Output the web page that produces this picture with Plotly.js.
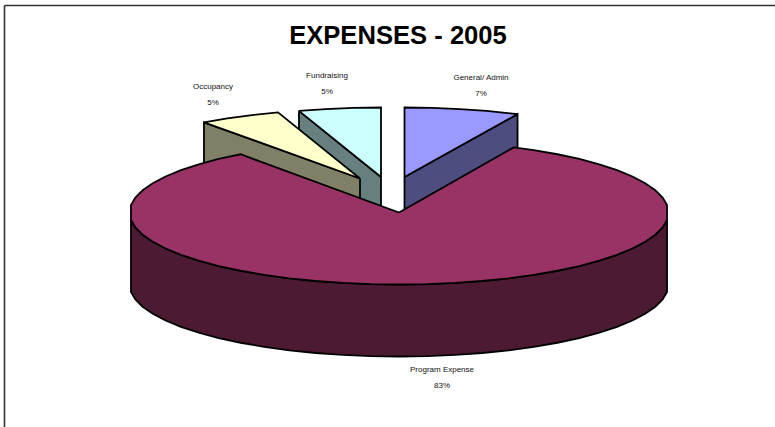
<!DOCTYPE html>
<html>
<head>
<meta charset="utf-8">
<script src="https://cdn.plot.ly/plotly-3.0.1.min.js"></script>
<style>html,body{margin:0;padding:0;background:#fff}#chart{width:775px;height:427px}</style>
</head>
<body>
<div id="chart"></div>
<script>
// Data, clockwise from 12 o'clock
const categories = ['General/ Admin', 'Program Expense', 'Occupancy', 'Fundraising'];
const expenses = [7, 83, 5, 5];

// Styles
const topColors = ['#9999FF', '#993366', '#FFFFCC', '#CCFFFF'];
const sideColors = ['#4D4D80', '#4D1A33', '#808066', '#668080'];

// Pie projection (oblique view of a disc, in page units)
const centre = {x: 399, y: 212.5};
const radius = {x: 269.5, y: 72};
const depth = 72;
const explode = [[5.5, -35.5], [0, 0], [-39, -34], [-18, -35.5]];
const farScale = [{x: 0.985, y: 0.965}, {x: 1, y: 1}, {x: 0.985, y: 0.965}, {x: 0.985, y: 0.965}];
const labelAt = [[481, 78], [442, 370], [213, 87], [327, 76]];
const GRID = 6;

const total = expenses.reduce((a, b) => a + b, 0);
const slices = [];
let acc = 0;
expenses.forEach((v, i) => {
  const start = acc, end = acc + 360 * v / total;
  acc = end;
  slices.push({i, start, end, pct: Math.round(100 * v / total),
    ox: centre.x + explode[i][0], oy: centre.y + explode[i][1]});
});

function pt(s, deg, drop) {
  const r = deg * Math.PI / 180, k = farScale[s.i];
  return [s.ox + k.x * radius.x * Math.sin(r), s.oy - k.y * radius.y * Math.cos(r) + (drop || 0)];
}
function arcAngles(a, b) {
  const out = [a];
  for (let g = Math.ceil(a / GRID) * GRID; g < b - 0.5; g += GRID) {
    if (g > a + 0.5 && g !== 90 && g !== 270) out.push(g);
  }
  out.push(b);
  return out;
}
function poly(points, fill, name) {
  const c = points.concat([points[0]]);
  return {type: 'scatter', mode: 'lines', name, x: c.map(p => p[0]), y: c.map(p => p[1]),
    fill: 'toself', fillcolor: fill, line: {color: '#000', width: 1.8, shape: 'linear'},
    hoverinfo: 'skip', showlegend: false};
}
function topFace(s) {
  const pts = [[s.ox, s.oy]].concat(arcAngles(s.start, s.end).map(d => pt(s, d)));
  return poly(pts, topColors[s.i], categories[s.i]);
}
function radialFace(s, deg) {
  const a = pt(s, deg), b = pt(s, deg, depth);
  return poly([[s.ox, s.oy], a, b, [s.ox, s.oy + depth]], sideColors[s.i], categories[s.i] + ' side');
}
function wall(s, a, b) {
  const ang = arcAngles(a, b);
  const pts = ang.map(d => pt(s, d)).concat(ang.slice().reverse().map(d => pt(s, d, depth)));
  return poly(pts, sideColors[s.i], categories[s.i] + ' wall');
}

const [ga, prog, occ, fund] = slices;
const labelFont = {family: 'Liberation Sans, Arial, sans-serif', size: 8, color: '#111'};
const traces = [
  radialFace(fund, fund.start), topFace(fund),
  radialFace(ga, ga.end), topFace(ga),
  radialFace(occ, occ.start), topFace(occ),
  wall(prog, 96, 264), topFace(prog),
  {type: 'scatter', mode: 'text', hoverinfo: 'skip', showlegend: false,
    x: slices.map(s => labelAt[s.i][0]), y: slices.map(s => labelAt[s.i][1]),
    text: slices.map(s => categories[s.i]), textposition: 'middle center', textfont: labelFont},
  {type: 'scatter', mode: 'text', hoverinfo: 'skip', showlegend: false,
    x: slices.map(s => labelAt[s.i][0]), y: slices.map(s => labelAt[s.i][1] + 16),
    text: slices.map(s => s.pct + '%'), textposition: 'middle center', textfont: labelFont}
];

const layout = {
  width: 775, height: 427, margin: {l: 0, r: 0, t: 0, b: 0},
  paper_bgcolor: '#fff', plot_bgcolor: '#fff', showlegend: false,
  title: {text: '<b>EXPENSES - 2005</b>', x: 398 / 775, xanchor: 'center', y: 1 - 35.5 / 427, yanchor: 'middle',
    font: {family: 'Liberation Sans, Arial, sans-serif', size: 25.6, color: '#000'}},
  xaxis: {range: [0, 775], visible: false, fixedrange: true},
  yaxis: {range: [427, 0], visible: false, fixedrange: true},
  shapes: [
    {type: 'line', xref: 'paper', yref: 'paper', x0: 4.5 / 775, x1: 4.5 / 775, y0: 0, y1: 1 - 5.5 / 427, line: {color: '#333', width: 1.6}},
    {type: 'line', xref: 'paper', yref: 'paper', x0: 4.5 / 775, x1: 1, y0: 1 - 5.5 / 427, y1: 1 - 5.5 / 427, line: {color: '#333', width: 1.6}}
  ]
};
Plotly.newPlot('chart', traces, layout, {displayModeBar: false, staticPlot: true});
</script>
</body>
</html>
